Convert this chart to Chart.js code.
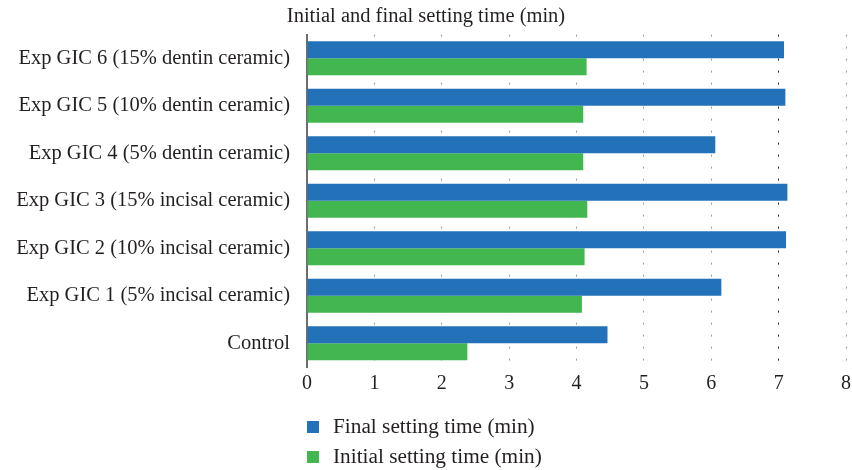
<!DOCTYPE html>
<html>
<head>
<meta charset="utf-8">
<script src="https://cdn.jsdelivr.net/npm/chart.js@4/dist/chart.umd.min.js"></script>
<style>
  html, body { margin: 0; padding: 0; background: #ffffff; }
  #wrap { width: 852px; height: 470px; }
</style>
</head>
<body>
<div id="wrap"><canvas id="c" width="852" height="470"></canvas></div>
<script>
const categories = [
  'Exp GIC 6 (15% dentin ceramic)',
  'Exp GIC 5 (10% dentin ceramic)',
  'Exp GIC 4 (5% dentin ceramic)',
  'Exp GIC 3 (15% incisal ceramic)',
  'Exp GIC 2 (10% incisal ceramic)',
  'Exp GIC 1 (5% incisal ceramic)',
  'Control'
];
const finalSetting = [7.08, 7.10, 6.06, 7.13, 7.11, 6.15, 4.46];
const initialSetting = [4.15, 4.10, 4.10, 4.16, 4.12, 4.08, 2.38];
const seriesLabels = ['Final setting time (min)', 'Initial setting time (min)'];
const chartTitle = 'Initial and final setting time (min)';

const FONT = '"Liberation Serif", "Times New Roman", serif';
const TEXT = '#231f20';
const BLUE = '#2372b9';
const GREEN = '#42b64f';

const bottomLegend = {
  id: 'bottomLegend',
  afterDraw(chart) {
    const ctx = chart.ctx;
    ctx.save();
    ctx.font = '21.3px ' + FONT;
    ctx.textBaseline = 'middle';
    ctx.textAlign = 'left';
    const x0 = chart.chartArea.left;
    const ys = [427, 457];
    chart.data.datasets.forEach((ds, i) => {
      ctx.fillStyle = ds.backgroundColor;
      ctx.fillRect(x0, ys[i] - 6, 12, 12);
      ctx.fillStyle = TEXT;
      ctx.fillText(ds.label, x0 + 26, ys[i]);
    });
    ctx.restore();
  }
};

new Chart(document.getElementById('c'), {
  type: 'bar',
  data: {
    labels: categories,
    datasets: [
      { label: seriesLabels[0], data: finalSetting, backgroundColor: BLUE },
      { label: seriesLabels[1], data: initialSetting, backgroundColor: GREEN }
    ]
  },
  options: {
    indexAxis: 'y',
    responsive: false,
    animation: false,
    devicePixelRatio: 1,
    layout: { padding: { left: 0, right: 0, top: 0, bottom: 69 } },
    datasets: { bar: { categoryPercentage: 0.717, barPercentage: 1.0 } },
    plugins: {
      legend: { display: false },
      tooltip: { enabled: false },
      title: {
        display: true,
        text: chartTitle,
        color: TEXT,
        font: { family: FONT, size: 20.5, weight: 'normal' },
        padding: { top: 4, bottom: 6 }
      }
    },
    scales: {
      x: {
        min: 0,
        max: 8,
        ticks: {
          stepSize: 1,
          color: TEXT,
          padding: 5,
          font: { family: FONT, size: 20 }
        },
        grid: {
          drawTicks: false,
          lineWidth: 1,
          color: (c) => (c.tick && c.tick.value === 7) ? '#222222' : '#9a9a9a'
        },
        border: { display: false, dash: [2, 10] },
        afterFit(scale) { scale.paddingRight = 6; }
      },
      y: {
        ticks: {
          color: TEXT,
          padding: 17,
          font: { family: FONT, size: 20.5 }
        },
        grid: { display: false, drawTicks: false },
        border: { display: true, color: '#6d6d6d', width: 2 },
        afterFit(scale) { scale.width = 307; }
      }
    }
  },
  plugins: [bottomLegend]
});
</script>
</body>
</html>
